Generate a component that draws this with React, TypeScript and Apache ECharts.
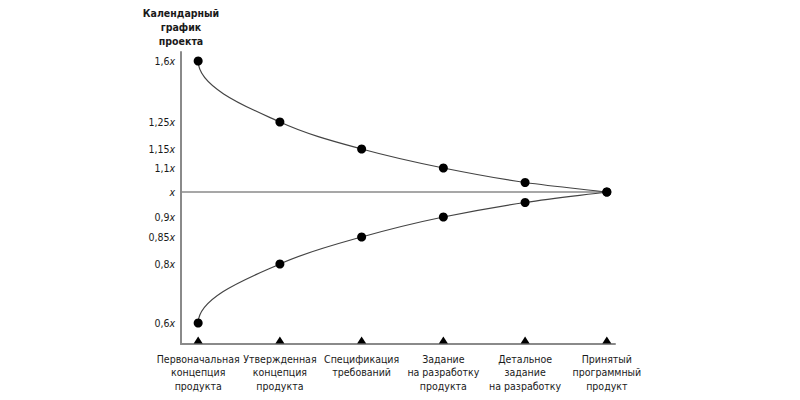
import React, { useEffect, useRef } from "react";
import * as echarts from "echarts";

const categories = [
  "Первоначальная\nконцепция\nпродукта",
  "Утвержденная\nконцепция\nпродукта",
  "Спецификация\nтребований",
  "Задание\nна разработку\nпродукта",
  "Детальное\nзадание\nна разработку",
  "Принятый\nпрограммный\nпродукт",
];
const upperValues = [1.6, 1.25, 1.15, 1.1, 1.05, 1.0];
const lowerValues = [0.6, 0.8, 0.85, 0.9, 0.95, 1.0];
const yTicks = [0.6, 0.8, 0.85, 0.9, 1.0, 1.1, 1.15, 1.25, 1.6];
const yTickLabels = ["0,6", "0,8", "0,85", "0,9", "", "1,1", "1,15", "1,25", "1,6"];
const yTitle = "Календарный\nграфик\nпроекта";

// schematic (non-linear) vertical scale of the drawing: value -> axis position
const scaleValues = [0.6, 0.8, 0.85, 0.9, 0.95, 1.0, 1.05, 1.1, 1.15, 1.25, 1.6];
const scalePos = [-131, -72, -45, -25, -10.5, 0, 9.5, 24, 43, 70, 131];

function toPos(v: number): number {
  for (let i = 0; i < scaleValues.length - 1; i++) {
    const a = scaleValues[i], b = scaleValues[i + 1];
    if (v >= a && v <= b) {
      const t = (v - a) / (b - a);
      return scalePos[i] + t * (scalePos[i + 1] - scalePos[i]);
    }
  }
  return v < scaleValues[0] ? scalePos[0] : scalePos[scalePos.length - 1];
}

const FONT = "'Liberation Sans Narrow', 'Arial Narrow', 'DejaVu Sans Condensed', sans-serif";
const FS = 10.5;

// smooth curve through pixel points: vertical tangent at start, monotone tangents elsewhere
function curvePath(pts: number[][]): string {
  const n = pts.length;
  const d: number[] = [];
  for (let k = 0; k < n - 1; k++) {
    d.push((pts[k + 1][1] - pts[k][1]) / (pts[k + 1][0] - pts[k][0]));
  }
  const m: number[] = new Array(n).fill(0);
  for (let k = 1; k < n - 1; k++) {
    if (d[k - 1] * d[k] > 0) m[k] = (2 * d[k - 1] * d[k]) / (d[k - 1] + d[k]);
  }
  m[n - 1] = d[n - 2];
  let s = `M${pts[0][0]},${pts[0][1]}`;
  for (let k = 0; k < n - 1; k++) {
    const [x0, y0] = pts[k];
    const [x1, y1] = pts[k + 1];
    const dx = x1 - x0;
    let c1x: number, c1y: number;
    if (k === 0) {
      c1x = x0;
      c1y = y0 + (y1 - y0) * 0.45;
    } else {
      c1x = x0 + dx / 3;
      c1y = y0 + (m[k] * dx) / 3;
    }
    const c2x = x1 - dx / 3;
    const c2y = y1 - (m[k + 1] * dx) / 3;
    s += ` C${c1x},${c1y} ${c2x},${c2y} ${x1},${y1}`;
  }
  return s;
}

export default function App() {
  const ref = useRef<HTMLDivElement>(null);
  useEffect(() => {
    if (!ref.current) return;
    const chart = echarts.init(ref.current, undefined, { renderer: "svg" });
    const xMin = -0.21;
    const yMin = -152;
    const tickPos = yTicks.map(toPos);
    const curveSeries = (name: string, values: number[]) => ({
      name,
      type: "custom",
      coordinateSystem: "cartesian2d",
      data: [[0, toPos(values[0])]],
      clip: false,
      silent: true,
      z: 2,
      renderItem: (_params: any, api: any) => {
        const pts = values.map((v, i) => api.coord([i, toPos(v)]));
        return {
          type: "path",
          shape: { pathData: curvePath(pts) },
          style: { fill: "none", stroke: "#444", lineWidth: 1.2 },
        };
      },
    });
    const dotSeries = (name: string, values: number[]) => ({
      name,
      type: "scatter",
      data: values.map((v, i) => [i, toPos(v)]),
      symbol: "circle",
      symbolSize: 9,
      itemStyle: { color: "#000", opacity: 1 },
      clip: false,
      z: 4,
    });
    chart.setOption({
      animation: false,
      backgroundColor: "#ffffff",
      textStyle: { fontFamily: FONT },
      grid: { left: 181, right: 185, top: 52, bottom: 56 },
      xAxis: {
        type: "value",
        min: xMin,
        max: 5.1,
        axisLine: { show: true, onZero: false, lineStyle: { color: "#8a8a8a", width: 2 } },
        axisTick: { show: false },
        splitLine: { show: false },
        axisLabel: {
          customValues: categories.map((_, i) => i),
          formatter: (v: number) => categories[Math.round(v)] ?? "",
          color: "#1a1a1a",
          fontSize: FS,
          lineHeight: 13.5,
          margin: 8,
          hideOverlap: false,
          fontFamily: FONT,
        },
      },
      yAxis: {
        type: "value",
        min: yMin,
        max: 140,
        name: yTitle,
        nameLocation: "end",
        nameGap: 4,
        nameTextStyle: {
          color: "#1a1a1a",
          fontWeight: "bold",
          fontSize: FS,
          lineHeight: 14,
          align: "center",
          verticalAlign: "bottom",
          fontFamily: FONT,
        },
        axisLine: { show: true, onZero: false, lineStyle: { color: "#8a8a8a", width: 2 } },
        axisTick: { show: false },
        splitLine: { show: false },
        axisLabel: {
          customValues: tickPos,
          hideOverlap: false,
          formatter: (v: number) => {
            let idx = 0;
            let best = Infinity;
            tickPos.forEach((p, i) => {
              const dd = Math.abs(p - v);
              if (dd < best) { best = dd; idx = i; }
            });
            const n = yTickLabels[idx];
            return n ? `{n|${n}}{i|x}` : `{i|x}`;
          },
          margin: 6,
          rich: {
            n: { color: "#1a1a1a", fontSize: FS, fontFamily: FONT },
            i: { color: "#1a1a1a", fontSize: FS, fontStyle: "italic", fontFamily: FONT },
          },
        },
      },
      series: [
        {
          name: "reference",
          type: "line",
          data: [[xMin, toPos(1.0)], [upperValues.length - 1, toPos(1.0)]],
          symbol: "none",
          lineStyle: { color: "#8a8a8a", width: 1.5 },
          silent: true,
          z: 1,
        },
        curveSeries("upperCurve", upperValues),
        curveSeries("lowerCurve", lowerValues),
        dotSeries("upper", upperValues),
        dotSeries("lower", lowerValues),
        {
          name: "milestones",
          type: "scatter",
          data: categories.map((_, i) => [i, yMin]),
          symbol: "triangle",
          symbolSize: [9, 7],
          symbolOffset: [0, -4],
          itemStyle: { color: "#000", opacity: 1 },
          clip: false,
          z: 5,
        },
      ],
    });
    return () => chart.dispose();
  }, []);
  return (
    <div
      ref={ref}
      style={{ position: "fixed", left: 0, top: 0, width: 800, height: 400 }}
    />
  );
}
